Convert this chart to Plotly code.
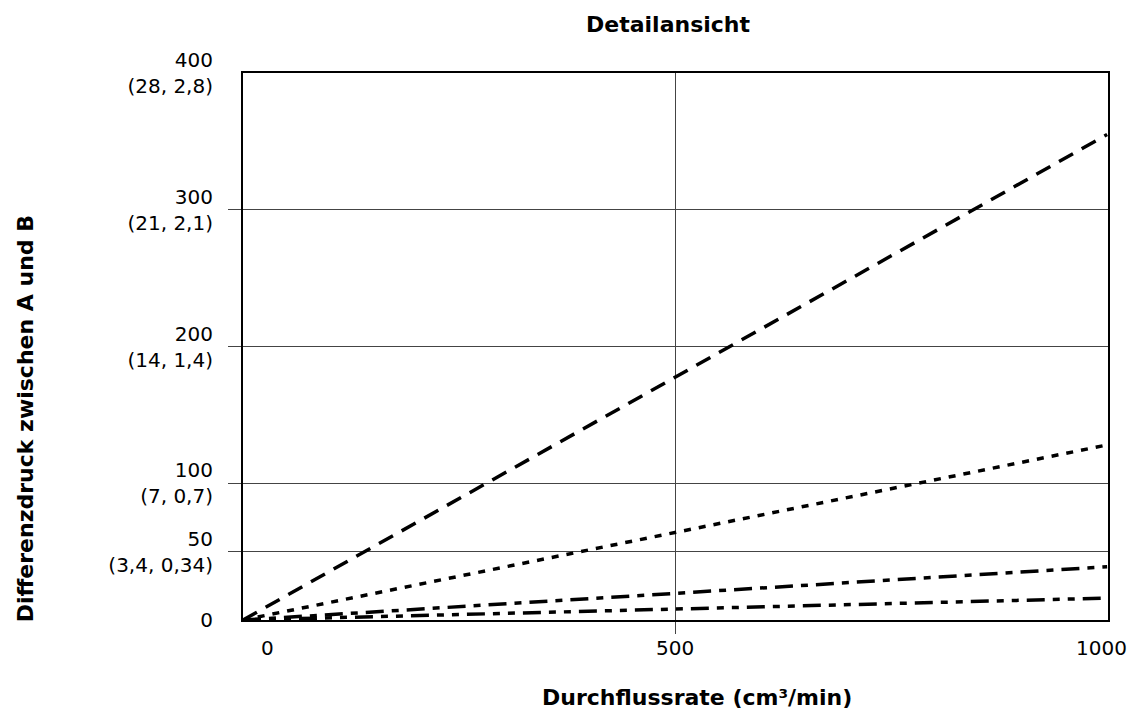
import plotly.graph_objects as go

# Data
flow = [0, 1000]
series_dashed = [0, 355]
series_dotted = [0, 128]
series_dashdot = [0, 39]
series_dashdotdot = [0, 16]

y_tickvals = [0, 50, 100, 200, 300, 400]
y_ticktext = ["0", "50<br>(3,4, 0,34)", "100<br>(7, 0,7)", "200<br>(14, 1,4)",
              "300<br>(21, 2,1)", "400<br>(28, 2,8)"]
x_tickvals = [500]
x_ticktext = ["500"]
x_edge_labels = [(0, "0", 24, "center"), (1000, "1000", 22, "right")]

FONT = "DejaVu Sans"

fig = go.Figure()
styles = [
    (series_dashed, "16px,10px"),
    (series_dotted, "7px,8px"),
    (series_dashdot, "18px,8px,7px,8px"),
    (series_dashdotdot, "18px,8px,7px,8px,7px,8px"),
]
for ys, dash in styles:
    fig.add_trace(go.Scatter(x=flow, y=ys, mode="lines",
                             line=dict(color="black", width=3.5, dash=dash),
                             showlegend=False, hoverinfo="skip"))

annotations = [
    dict(text="<b>Detailansicht</b>", xref="paper", yref="paper",
         x=0.491, y=1.088, showarrow=False, font=dict(size=22),
         xanchor="center", yanchor="middle"),
    dict(text="<b>Durchflussrate (cm³/min)</b>", xref="paper", yref="paper",
         x=0.525, y=-0.141, showarrow=False, font=dict(size=22),
         xanchor="center", yanchor="middle"),
    dict(text="<b>Differenzdruck zwischen A und B</b>", xref="paper", yref="paper",
         x=-0.252, y=0.367, showarrow=False, font=dict(size=22), textangle=-90,
         xanchor="center", yanchor="middle"),
]
for xv, txt, shift, anchor in x_edge_labels:
    annotations.append(dict(text=txt, xref="x", yref="paper", x=xv, y=-0.051,
                            xshift=shift, showarrow=False, xanchor=anchor,
                            yanchor="middle"))

fig.update_layout(
    width=1131, height=713,
    margin=dict(l=243, r=23, t=73, b=93),
    plot_bgcolor="white", paper_bgcolor="white",
    font=dict(family=FONT, size=20, color="black"),
    xaxis=dict(range=[0, 1001], tickvals=x_tickvals, ticktext=x_ticktext,
               showgrid=True, gridcolor="#444", gridwidth=1,
               showline=True, linecolor="black", linewidth=2, mirror=True,
               ticks="", ticklabelstandoff=9, zeroline=False,
               minor=dict(tickvals=[500], ticks="outside", ticklen=12,
                          tickcolor="#444", showgrid=False)),
    yaxis=dict(range=[0, 400], tickvals=y_tickvals, ticktext=y_ticktext,
               showgrid=True, gridcolor="#444", gridwidth=1,
               showline=True, linecolor="black", linewidth=2, mirror=True,
               ticks="", ticklabelstandoff=24, zeroline=False,
               minor=dict(tickvals=[50, 100, 200, 300], ticks="outside", ticklen=13,
                          tickcolor="#444", showgrid=False)),
    annotations=annotations,
)

fig.write_html("out.html", config={"displayModeBar": False},
               post_script="document.body.style.margin='0';")
